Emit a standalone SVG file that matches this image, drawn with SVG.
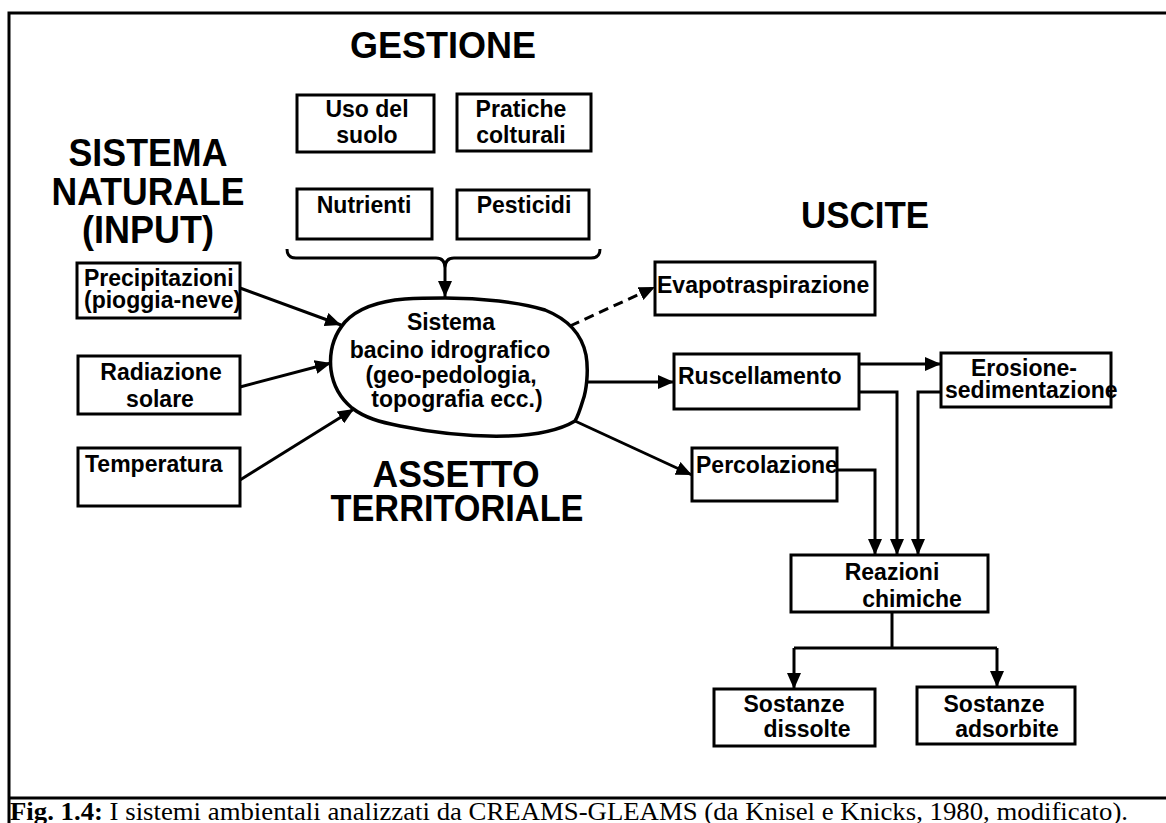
<svg xmlns="http://www.w3.org/2000/svg" width="1166" height="823" viewBox="0 0 1166 823">
<defs>
<marker id="ah" markerUnits="userSpaceOnUse" markerWidth="18" markerHeight="14" refX="16" refY="7" orient="auto">
<path d="M0,0 L16,7 L0,14 z" fill="#000"/>
</marker>
<style>
.box{fill:#fff;stroke:#000;stroke-width:3}
.t{font-family:"Liberation Sans",Arial,sans-serif;font-weight:bold;font-size:23px;fill:#000}
.h{font-family:"Liberation Sans",Arial,sans-serif;font-weight:bold;font-size:36px;fill:#000}
.hb{font-size:39px}
.c{text-anchor:middle}
.ln{fill:none;stroke:#000;stroke-width:3}
.cap{font-family:"Liberation Serif","Times New Roman",serif;font-size:25px;fill:#000}
</style>
</defs>
<rect width="1166" height="823" fill="#fff"/>
<g id="frame" fill="none" stroke="#000" stroke-width="3">
<path d="M1166,13 H9 V823"/>
<path d="M9,798 H1166"/>
</g>
<text class="cap" x="10" y="820" textLength="1118" lengthAdjust="spacingAndGlyphs"><tspan font-weight="bold">Fig. 1.4:</tspan> I sistemi ambientali analizzati da CREAMS-GLEAMS (da Knisel e Knicks, 1980, modificato).</text>

<g id="headings">
<text class="h c" x="443" y="58" textLength="186" lengthAdjust="spacingAndGlyphs">GESTIONE</text>
<text class="h hb c" x="148" y="166" textLength="159" lengthAdjust="spacingAndGlyphs">SISTEMA</text>
<text class="h hb c" x="148" y="205" textLength="193" lengthAdjust="spacingAndGlyphs">NATURALE</text>
<text class="h hb c" x="148" y="243" textLength="132" lengthAdjust="spacingAndGlyphs">(INPUT)</text>
<text class="h c" x="456" y="487" textLength="167" lengthAdjust="spacingAndGlyphs">ASSETTO</text>
<text class="h c" x="457" y="521" textLength="253" lengthAdjust="spacingAndGlyphs">TERRITORIALE</text>
<text class="h c" x="865" y="228" textLength="128" lengthAdjust="spacingAndGlyphs">USCITE</text>
</g>

<g id="connectors">
<path class="ln" d="M287,249 Q287,258 296,258 L436,258 Q445,258 445,268 Q445,258 454,258 L591,258 Q600,258 600,249"/>
<line class="ln" x1="445" y1="268" x2="445" y2="297" marker-end="url(#ah)"/>
<line class="ln" x1="240" y1="288" x2="341" y2="325" marker-end="url(#ah)"/>
<line class="ln" x1="240" y1="387" x2="331" y2="363" marker-end="url(#ah)"/>
<line class="ln" x1="240" y1="480" x2="354" y2="409" marker-end="url(#ah)"/>
<line class="ln" x1="570" y1="326" x2="655" y2="287" stroke-dasharray="10,6" marker-end="url(#ah)"/>
<line class="ln" x1="585" y1="382" x2="674" y2="382" marker-end="url(#ah)"/>
<line class="ln" x1="575" y1="421" x2="692" y2="475" marker-end="url(#ah)"/>
<line class="ln" x1="859" y1="364" x2="941" y2="364" marker-end="url(#ah)"/>
<path class="ln" d="M859,392 H897 V555" marker-end="url(#ah)"/>
<path class="ln" d="M941,392 H918 V555" marker-end="url(#ah)"/>
<path class="ln" d="M837,470 H875 V555" marker-end="url(#ah)"/>
<path class="ln" d="M892,612 V648"/>
<path class="ln" d="M794,648 H997"/>
<path class="ln" d="M794,648 V689" marker-end="url(#ah)"/>
<path class="ln" d="M997,648 V687" marker-end="url(#ah)"/>
</g>

<g id="uso"><rect class="box" x="297" y="95" width="137" height="57"/>
<text class="t c" x="367" y="117">Uso del</text><text class="t c" x="367" y="143">suolo</text></g>
<g id="pratiche"><rect class="box" x="457" y="94" width="134" height="57"/>
<text class="t c" x="521" y="117">Pratiche</text><text class="t c" x="521" y="143">colturali</text></g>
<g id="nutrienti"><rect class="box" x="297" y="189" width="135" height="50"/>
<text class="t c" x="364" y="213">Nutrienti</text></g>
<g id="pesticidi"><rect class="box" x="457" y="190" width="132" height="49"/>
<text class="t c" x="524" y="213">Pesticidi</text></g>

<g id="precipitazioni"><text class="t" x="84" y="286">Precipitazioni</text><text class="t" x="84" y="308">(pioggia-neve)</text>
<rect class="box" x="77" y="263" width="163" height="55" style="fill:none"/></g>
<g id="radiazione"><rect class="box" x="78" y="356" width="162" height="58"/>
<text class="t c" x="161" y="380">Radiazione</text><text class="t c" x="160" y="407">solare</text></g>
<g id="temperatura"><rect class="box" x="78" y="448" width="162" height="58"/>
<text class="t" x="85" y="472">Temperatura</text></g>

<g id="sistema">
<path fill="#fff" stroke="#000" stroke-width="3.5" d="M445,298 C480,298 520,302 545,310 C570,320 582,335 586,355 C589,372 586,392 583,400 C580,410 578,416 575,421 C560,430 540,435 507,436 C470,437 430,432 400,426 C380,422 365,418 352,408 C340,398 333,385 331,370 C329,352 333,336 345,322 C358,308 380,301 405,299 C420,298 435,298 445,298 Z"/>
<text class="t c" x="451" y="330">Sistema</text>
<text class="t c" x="450" y="358">bacino idrografico</text>
<text class="t c" x="451" y="383">(geo-pedologia,</text>
<text class="t c" x="457" y="407">topografia ecc.)</text>
</g>

<g id="evapo"><rect class="box" x="655" y="262" width="220" height="53"/>
<text class="t" x="657" y="293">Evapotraspirazione</text></g>
<g id="ruscellamento"><rect class="box" x="674" y="354" width="185" height="55"/>
<text class="t" x="678" y="384">Ruscellamento</text></g>
<g id="erosione"><rect class="box" x="941" y="353" width="170" height="54"/>
<text class="t c" x="1024" y="376">Erosione-</text><text class="t" x="945" y="398">sedimentazione</text></g>
<g id="percolazione"><rect class="box" x="692" y="448" width="145" height="53"/>
<text class="t" x="696" y="473">Percolazione</text></g>
<g id="reazioni"><rect class="box" x="791" y="555" width="197" height="57"/>
<text class="t c" x="892" y="580">Reazioni</text><text class="t c" x="912" y="607">chimiche</text></g>
<g id="dissolte"><rect class="box" x="714" y="689" width="161" height="57"/>
<text class="t c" x="794" y="712">Sostanze</text><text class="t c" x="807" y="737">dissolte</text></g>
<g id="adsorbite"><rect class="box" x="917" y="687" width="158" height="57"/>
<text class="t c" x="994" y="712">Sostanze</text><text class="t c" x="1007" y="737">adsorbite</text></g>
</svg>
